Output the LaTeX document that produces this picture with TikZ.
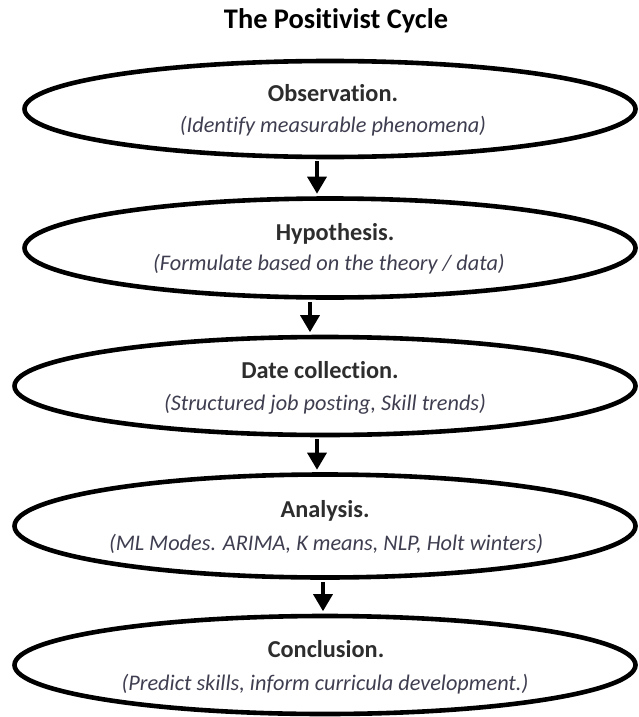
\documentclass[tikz,border=0pt]{standalone}
\usepackage{fontspec}
\setmainfont{Carlito}[Ligatures=CommonOff, Contextuals=AlternateOff]
\usepackage{tikz}
\usetikzlibrary{shapes.geometric, arrows.meta}

\definecolor{headgray}{RGB}{45,45,45}
\definecolor{subgray}{RGB}{62,62,80}

\tikzset{
    stage/.style={ellipse, draw=black, line width=4.6pt, inner sep=0pt},
    heading/.style={text=headgray, font=\fontsize{24.3}{29}\selectfont\bfseries,
        inner sep=0pt, text height=0.64em, text depth=0pt},
    detail/.style={text=subgray, font=\fontsize{22.3}{27}\selectfont\itshape,
        inner sep=0pt, text height=0.64em, text depth=0pt},
    flow/.style={line width=3.4pt, -{Triangle[width=19pt,length=17pt]}, shorten >=2.5pt, shorten <=2pt}
}

\begin{document}
\begin{tikzpicture}[x=1pt, y=-1pt]
    \useasboundingbox (0,0) rectangle (639,717);

    \node[font=\fontsize{28.4}{34}\selectfont\bfseries, inner sep=0pt,
        text height=0.64em, text depth=0pt] (title) at (336,25) {The Positivist Cycle};

    \node[stage, minimum width=611pt, minimum height=96pt]  (obs) at (330,109) {};
    \node[stage, minimum width=611pt, minimum height=99pt]  (hyp) at (330,248) {};
    \node[stage, minimum width=621pt, minimum height=98pt]  (dat) at (325,386) {};
    \node[stage, minimum width=621pt, minimum height=103pt] (ana) at (325,526) {};
    \node[stage, minimum width=621pt, minimum height=98pt]  (con) at (325,665) {};

    \node[heading] (obs-h) at (333,98)  {Observation.};
    \node[detail]  (obs-d) at (333,129) {(Identify measurable phenomena)};
    \node[heading] (hyp-h) at (335,237) {Hypothesis.};
    \node[detail]  (hyp-d) at (329,267) {(Formulate based on the theory / data)};
    \node[heading] (dat-h) at (320,375) {Date collection.};
    \node[detail]  (dat-d) at (325,407) {(Structured job posting, Skill trends)};
    \node[heading] (ana-h) at (325,514) {Analysis.};
    \node[detail]  (ana-d) at (326,547) {(ML Modes. ARIMA, K means, NLP, Holt winters)};
    \node[heading] (con-h) at (326,654) {Conclusion.};
    \node[detail]  (con-d) at (325,687) {(Predict skills, inform curricula development.)};

    % arrows between the stages
    \draw[flow] ([xshift=-13pt]obs.south) -- ([xshift=-13pt]hyp.north);
    \draw[flow] ([xshift=-20pt]hyp.south) -- ([xshift=-15pt]dat.north);
    \draw[flow] ([xshift=-8pt]dat.south)  -- ([xshift=-8pt]ana.north);
    \draw[flow] ([xshift=-2pt]ana.south)  -- ([xshift=-2pt]con.north);
\end{tikzpicture}
\end{document}
